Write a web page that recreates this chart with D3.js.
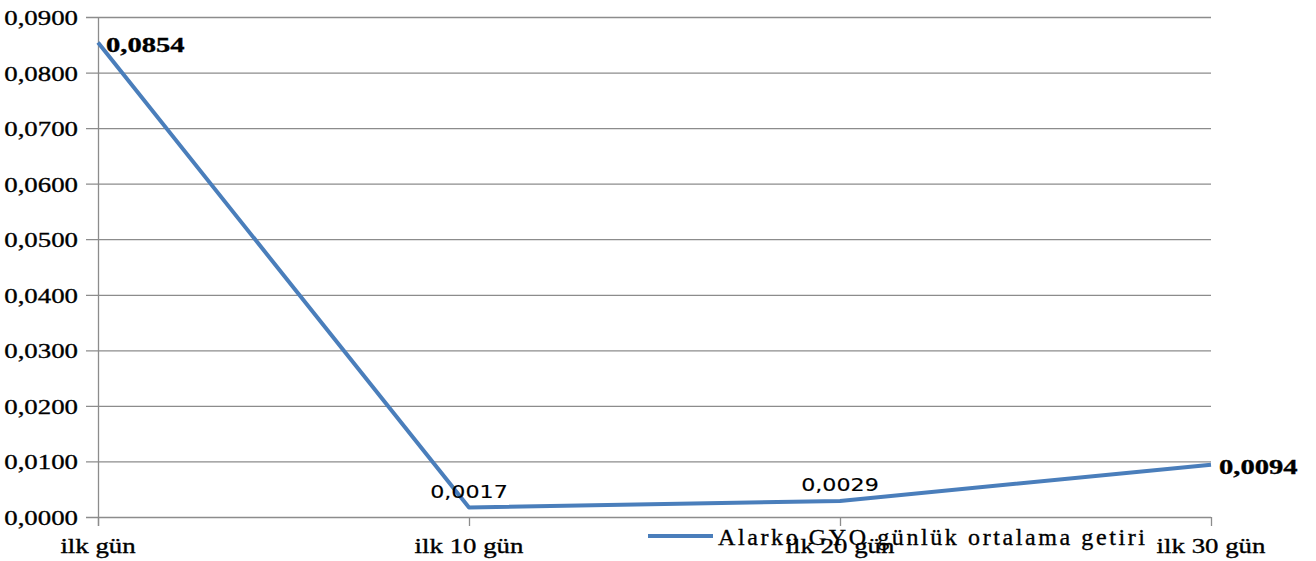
<!DOCTYPE html>
<html>
<head>
<meta charset="utf-8">
<script src="https://cdn.jsdelivr.net/npm/d3@7/dist/d3.min.js"></script>
<style>
  body { margin: 0; background: #fff; }
  svg { display: block; }
  text { stroke: #000; stroke-width: 0.35px; }
</style>
</head>
<body>
<svg id="chart" width="1316" height="561"></svg>
<script>
var categories = ["ilk gün", "ilk 10 gün", "ilk 20 gün", "ilk 30 gün"];
var values = [0.0854, 0.0017, 0.0029, 0.0094];
var labelText = ["0,0854", "0,0017", "0,0029", "0,0094"];
var yTicks = [0, 0.01, 0.02, 0.03, 0.04, 0.05, 0.06, 0.07, 0.08, 0.09];
var seriesName = "Alarko GYO günlük ortalama getiri";

var svg = d3.select("#chart");
var serif = "Liberation Serif";
var sans = "DejaVu Sans";
var stretch = 1.22;

var x = d3.scalePoint()
          .domain(categories)
          .range([98, 1211])
          .padding(0);

var y = d3.scaleLinear()
          .domain([0, 0.09])
          .range([517, 17]);

var fmt = d => d3.format(".4f")(d).replace(".", ",");

// gridlines
svg.append("g")
  .selectAll("line")
  .data(yTicks)
  .enter()
  .append("line")
    .attr("x1", 86)
    .attr("x2", x.range()[1])
    .attr("y1", d => y(d) + 0.5)
    .attr("y2", d => y(d) + 0.5)
    .attr("stroke", "#8c8c8c")
    .attr("stroke-width", 1.3);

// y axis line
svg.append("line")
    .attr("x1", 98.5).attr("x2", 98.5)
    .attr("y1", y(0.09)).attr("y2", 526)
    .attr("stroke", "#8c8c8c")
    .attr("stroke-width", 1.3);

// x ticks
svg.append("g")
  .selectAll("line")
  .data(categories)
  .enter()
  .append("line")
    .attr("x1", d => x(d) + 0.5)
    .attr("x2", d => x(d) + 0.5)
    .attr("y1", y(0))
    .attr("y2", 526)
    .attr("stroke", "#8c8c8c")
    .attr("stroke-width", 1.3);

// y labels
svg.append("g")
  .selectAll("text")
  .data(yTicks)
  .enter()
  .append("text")
    .attr("transform", d => "translate(78," + (y(d) + 8) + ") scale(" + stretch + ",1)")
    .attr("text-anchor", "end")
    .attr("font-family", serif)
    .attr("font-size", 22)
    .attr("fill", "#000")
    .text(fmt);

// x labels
svg.append("g")
  .selectAll("text")
  .data(categories)
  .enter()
  .append("text")
    .attr("transform", d => "translate(" + x(d) + ",553) scale(" + stretch + ",1)")
    .attr("text-anchor", "middle")
    .attr("font-family", serif)
    .attr("font-size", 22)
    .attr("fill", "#000")
    .text(d => d);

// line
var line = d3.line()
  .x((d, i) => x(categories[i]))
  .y(d => y(d));

svg.append("path")
    .datum(values)
    .attr("d", line)
    .attr("fill", "none")
    .attr("stroke", "#4a7ebb")
    .attr("stroke-width", 4)
    .attr("stroke-linejoin", "round");

// data labels
values.forEach(function(v, i) {
  var px = x(categories[i]), py = y(v);
  var t = svg.append("text").attr("fill", "#000").text(labelText[i]);
  if (i === 0 || i === 3) {
    t.attr("transform", "translate(" + (px + 8) + "," + (py + 9) + ") scale(1.3,1)")
      .attr("font-family", serif)
      .attr("font-weight", "bold")
      .attr("font-size", 22);
  } else {
    t.attr("transform", "translate(" + px + "," + (py - 10) + ") scale(1.2,1)")
      .attr("text-anchor", "middle")
      .attr("font-family", sans)
      .attr("font-size", 18.5)
      .style("stroke-width", "0.15px");
  }
});

// legend
svg.append("line")
    .attr("x1", 648).attr("x2", 713)
    .attr("y1", 536).attr("y2", 536)
    .attr("stroke", "#4a7ebb")
    .attr("stroke-width", 4);

svg.append("text")
    .attr("x", 718)
    .attr("y", 545)
    .attr("textLength", 427)
    .attr("lengthAdjust", "spacing")
    .attr("font-family", serif)
    .attr("font-size", 24)
    .attr("fill", "#000")
    .text(seriesName);
</script>
</body>
</html>
